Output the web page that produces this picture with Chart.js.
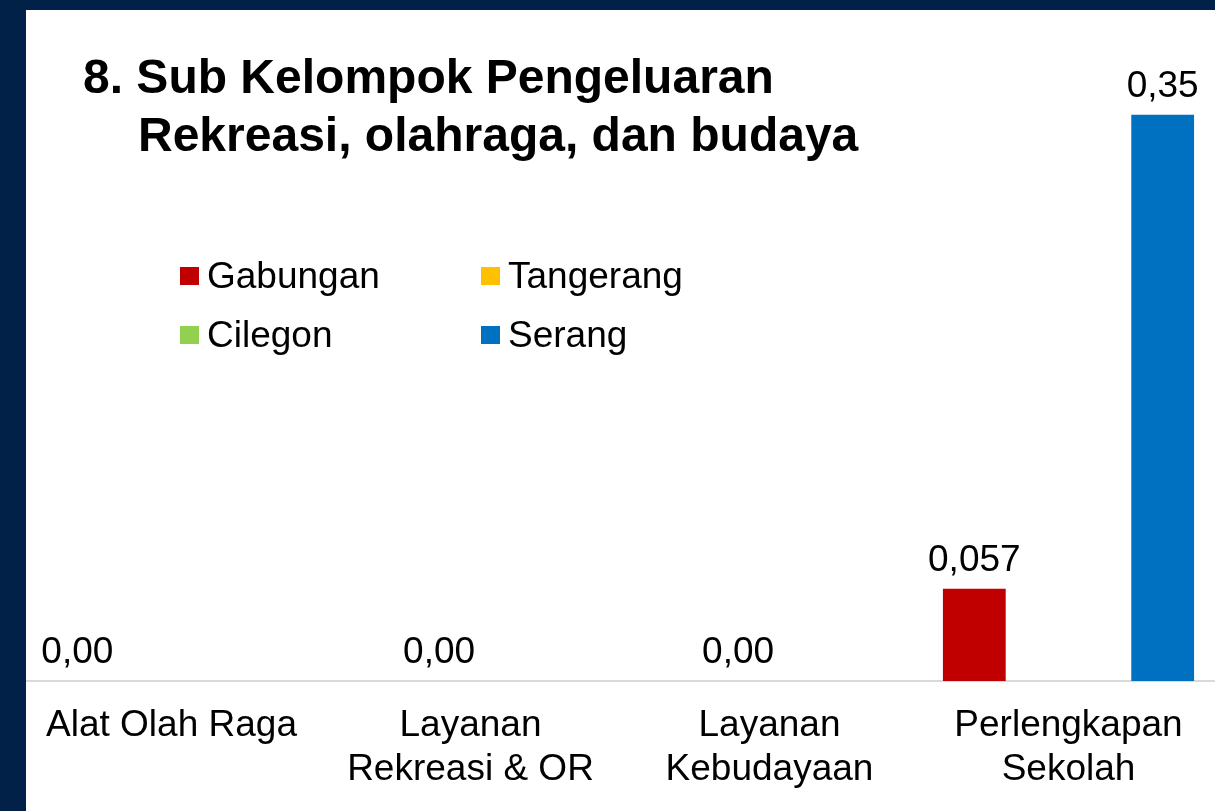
<!DOCTYPE html>
<html>
<head>
<meta charset="utf-8">
<script src="https://cdn.jsdelivr.net/npm/chart.js@4.4.1/dist/chart.umd.min.js"></script>
<style>
  html, body { margin: 0; padding: 0; width: 1215px; height: 811px; overflow: hidden; background: #fff; }
  body { position: relative; font-family: "Liberation Sans", Arial, sans-serif; }
  .frame-left { position: absolute; left: 0; top: 0; width: 26px; height: 811px; background: #022148; z-index: 5; }
  .frame-top { position: absolute; left: 0; top: 0; width: 1215px; height: 10px; background: #022148; z-index: 5; }
  .wrap { position: absolute; left: 22px; top: 0; width: 1196px; height: 811px; }
  .title { position: absolute; left: 83px; top: 48px; font-weight: bold; font-size: 48px; line-height: 58px; color: #000; white-space: nowrap; z-index: 3; }
  .title .l2 { padding-left: 55px; }
  .legend { position: absolute; left: 180px; top: 247px; display: grid; grid-template-columns: 301px 301px; grid-auto-rows: 58.7px; z-index: 3; }
  .legend .it { display: flex; align-items: center; font-size: 37px; color: #000; white-space: nowrap; }
  .legend .sw { width: 19px; height: 18px; margin-right: 8px; flex: none; }
</style>
</head>
<body>
<div class="frame-left"></div>
<div class="frame-top"></div>
<div class="title">8. Sub Kelompok Pengeluaran<br><span class="l2">Rekreasi, olahraga, dan budaya</span></div>
<div class="legend" id="legend"></div>
<div class="wrap"><canvas id="chart"></canvas></div>
<script>
const categories = [
    ['Alat Olah Raga'],
    ['Layanan', 'Rekreasi & OR'],
    ['Layanan', 'Kebudayaan'],
    ['Perlengkapan', 'Sekolah']
];
const seriesNames = ['Gabungan', 'Tangerang', 'Cilegon', 'Serang'];
const seriesColors = ['#c00000', '#ffc000', '#92d050', '#0070c0'];
const gabungan = [0, null, null, 0.057];
const tangerang = [null, 0, 0, null];
const cilegon = [null, null, null, null];
const serang = [null, null, null, 0.35];

const fontFamily = '"Liberation Sans", Arial, sans-serif';

function fmt(v) {
    const dec = (String(v).split('.')[1] || '').length;
    return v.toFixed(Math.max(2, dec)).replace('.', ',');
}

const valueLabels = {
    id: 'valueLabels',
    afterDatasetsDraw(chart) {
        const ctx = chart.ctx;
        ctx.save();
        ctx.font = '37px ' + fontFamily;
        ctx.fillStyle = '#000';
        ctx.textAlign = 'center';
        ctx.textBaseline = 'alphabetic';
        chart.data.datasets.forEach((ds, di) => {
            const meta = chart.getDatasetMeta(di);
            ds.data.forEach((v, i) => {
                if (v === null || v === undefined) return;
                const bar = meta.data[i];
                ctx.fillText(fmt(v), bar.x, bar.y - 18);
            });
        });
        ctx.restore();
    }
};

const seriesData = [gabungan, tangerang, cilegon, serang];

const chart = new Chart(document.getElementById('chart'), {
    type: 'bar',
    data: {
        labels: categories,
        datasets: seriesNames.map((name, i) => ({
            label: name,
            data: seriesData[i],
            backgroundColor: seriesColors[i],
            borderWidth: 0,
            categoryPercentage: 0.84,
            barPercentage: 1.0
        }))
    },
    options: {
        responsive: true,
        maintainAspectRatio: false,
        animation: false,
        layout: { padding: 0 },
        plugins: {
            legend: { display: false },
            title: { display: false },
            tooltip: { enabled: false }
        },
        scales: {
            x: {
                grid: { display: false, drawTicks: false },
                border: { display: true, color: '#d9d9d9', width: 2 },
                ticks: {
                    color: '#000',
                    font: { family: fontFamily, size: 37, lineHeight: 44 / 37 },
                    padding: 23,
                    maxRotation: 0,
                    autoSkip: false
                },
                afterFit(scale) { scale.height = 811 - 681; }
            },
            y: {
                display: false,
                min: 0,
                max: 0.421
            }
        }
    },
    plugins: [valueLabels]
});

document.getElementById('legend').innerHTML = chart.data.datasets.map((ds) =>
    `<div class="it"><span class="sw" style="background:${ds.backgroundColor}"></span>${ds.label}</div>`
).join('');
</script>
</body>
</html>
